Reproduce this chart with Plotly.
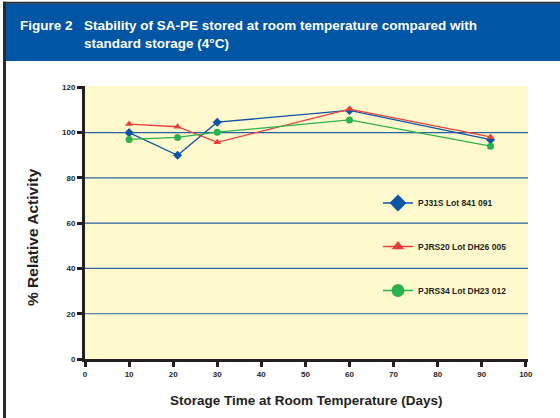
import plotly.graph_objects as go

# ---------------- data ----------------
days = [10, 21, 30, 60, 92]
pj31s = [100, 90, 104.6, 109.8, 96.9]
pjrs20 = [103.8, 102.6, 95.7, 110.4, 98.1]
pjrs34 = [97.0, 97.9, 100.2, 105.6, 94.0]
series_names = ["PJ31S Lot 841 091", "PJRS20 Lot DH26 005", "PJRS34 Lot DH23 012"]
x_ticks = [0, 10, 20, 30, 40, 50, 60, 70, 80, 90, 100]
y_ticks = [0, 20, 40, 60, 80, 100, 120]
grid_vals = [20, 40, 60, 80, 100]
title_line1_a = "Figure 2"
title_line1_b = "Stability of SA-PE stored at room temperature compared with"
title_line2 = "standard storage (4°C)"
x_title = "Storage Time at Room Temperature (Days)"
y_title = "% Relative Activity"

# ---------------- layout geometry ----------------
W, H = 560, 418
L, R, T, B = 85, 528, 86, 359  # plot area in pixels


def px(xp):
    return (xp - L) / (R - L)


def py(yp):
    return (B - yp) / (B - T)


FONT = "Liberation Sans, Arial, Helvetica, sans-serif"
INK = "#231f20"
BLUE = "#0b55a6"
RED = "#ec3f3a"
GREEN = "#2bb34b"

fig = go.Figure()

styles = [
    (pj31s, BLUE, "diamond", 7, 13),
    (pjrs20, RED, "triangle-up", 7, 11),
    (pjrs34, GREEN, "circle", 7, 13),
]
legend_ids = ["legend", "legend2", "legend3"]
for (vals, col, sym, ms, lms), name, lid in zip(styles, series_names, legend_ids):
    fig.add_trace(go.Scatter(
        x=days, y=vals, mode="lines+markers", name=name,
        line=dict(color=col, width=1.3),
        marker=dict(symbol=sym, size=ms, color=col),
        showlegend=False, hoverinfo="x+y",
    ))
    # legend-only entry with larger symbol
    fig.add_trace(go.Scatter(
        x=[None], y=[None], mode="lines+markers", name=f"<b>{name}</b>",
        line=dict(color=col, width=1.5),
        marker=dict(symbol=sym, size=lms, color=col),
        showlegend=True, legend=lid,
    ))

shapes = []
# gridlines
for g in grid_vals:
    shapes.append(dict(type="line", xref="paper", yref="y", x0=0, x1=1, y0=g, y1=g,
                       line=dict(color="#2a62a6", width=1.2), layer="below"))
# header band
shapes.append(dict(type="rect", xref="paper", yref="paper",
                   x0=px(6), x1=px(W + 2), y0=py(61), y1=py(3.2),
                   fillcolor="#0055a5", line=dict(width=0), layer="above"))
# frame lines (top + left)
shapes.append(dict(type="rect", xref="paper", yref="paper",
                   x0=px(3), x1=px(W + 2), y0=py(3.4), y1=py(1.8),
                   fillcolor="#2b2b2b", line=dict(width=0), layer="above"))
shapes.append(dict(type="rect", xref="paper", yref="paper",
                   x0=px(3), x1=px(6), y0=py(H + 2), y1=py(1.8),
                   fillcolor="#2b2b2b", line=dict(width=0), layer="above"))

annotations = [
    dict(text=f"<b>{title_line1_a}</b>", xref="paper", yref="paper", x=px(18), y=py(26),
         xanchor="left", yanchor="middle", showarrow=False,
         font=dict(family=FONT, size=13.5, color="white")),
    dict(text=f"<b>{title_line1_b}</b>", xref="paper", yref="paper", x=px(81.5), y=py(26),
         xanchor="left", yanchor="middle", showarrow=False,
         font=dict(family=FONT, size=13.5, color="white")),
    dict(text=f"<b>{title_line2}</b>", xref="paper", yref="paper", x=px(81.5), y=py(43.5),
         xanchor="left", yanchor="middle", showarrow=False,
         font=dict(family=FONT, size=13.5, color="white")),
    dict(text=f"<b>{x_title}</b>", xref="paper", yref="paper", x=px(306), y=py(400),
         xanchor="center", yanchor="middle", showarrow=False,
         font=dict(family=FONT, size=13.5, color=INK)),
    dict(text=f"<b>{y_title}</b>", xref="paper", yref="paper", x=px(32), y=py(237),
         xanchor="center", yanchor="middle", showarrow=False, textangle=-90,
         font=dict(family=FONT, size=15.5, color=INK)),
]

leg_common = dict(xanchor="left", yanchor="middle", bgcolor="rgba(0,0,0,0)",
                  borderwidth=0, font=dict(family=FONT, size=8.5, color=INK),
                  itemwidth=30)

fig.update_layout(
    width=W, height=H,
    margin=dict(l=L, r=W - R, t=T, b=H - B),
    paper_bgcolor="white", plot_bgcolor="#fff9cd",
    font=dict(family=FONT, color=INK),
    shapes=shapes, annotations=annotations,
    legend=dict(x=px(378), y=py(203), **leg_common),
    legend2=dict(x=px(378), y=py(246.5), **leg_common),
    legend3=dict(x=px(378), y=py(290.5), **leg_common),
    xaxis=dict(range=[0, 100.5], tickvals=x_ticks, ticktext=[f"<b>{v}</b>" for v in x_ticks],
               showgrid=False, zeroline=False, showline=True, linecolor=INK, linewidth=3,
               ticks="outside", ticklen=5, tickwidth=2.5, tickcolor=INK,
               tickfont=dict(family=FONT, size=8, color=INK)),
    yaxis=dict(range=[0, 120.6], tickvals=y_ticks, ticktext=[f"<b>{v}</b>" for v in y_ticks],
               showgrid=False, zeroline=False, showline=True, linecolor=INK, linewidth=3,
               ticks="outside", ticklen=5, tickwidth=2.5, tickcolor=INK,
               tickfont=dict(family=FONT, size=8, color=INK)),
)

fig.write_html("out.html", config={"displayModeBar": False},
               post_script="document.body.style.margin='0';")
